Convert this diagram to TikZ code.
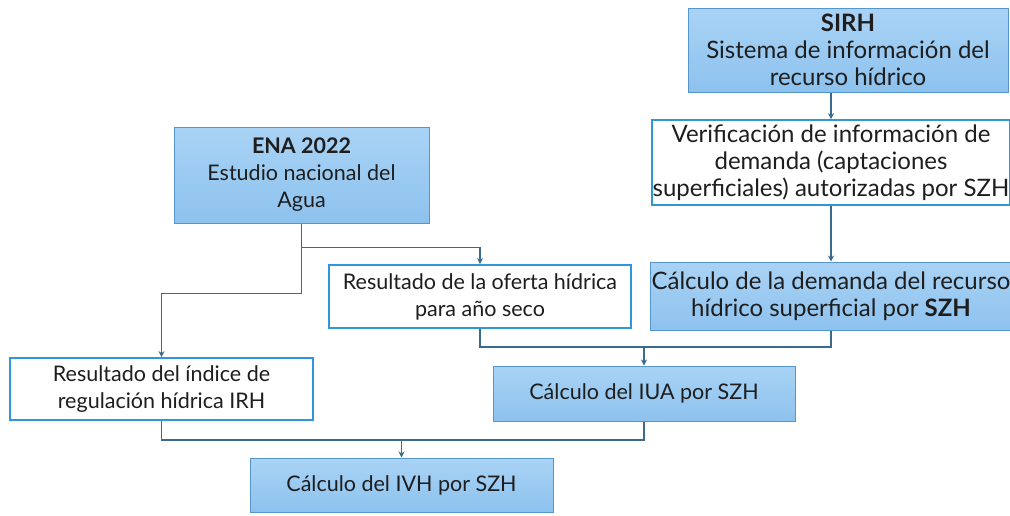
\documentclass[tikz,border=0pt]{standalone}
\usepackage{fontspec}
\setmainfont{Lato}
\usetikzlibrary{arrows.meta,calc}
\definecolor{lineblue}{HTML}{3B6B8C}
\definecolor{wborder}{HTML}{2F97D8}
\definecolor{bborder}{HTML}{5596CC}
\definecolor{btop}{HTML}{A9D3F5}
\definecolor{bbot}{HTML}{8DC2EE}
\definecolor{txt}{HTML}{1E1E1E}
\tikzset{
  box/.style={rectangle, align=center, inner sep=1pt, text=txt,
    font=\fontsize{21.5}{27}\selectfont},
  big/.style={font=\fontsize{24}{27}\selectfont},
  bluebox/.style={box, draw=bborder, line width=1pt, top color=btop, bottom color=bbot},
  whitebox/.style={box, draw=wborder, line width=1.8pt, fill=white},
  conn/.style={draw=lineblue, line width=1.4pt},
  arr/.style={conn, -{Stealth[length=6pt,width=6pt]}}
}
\begin{document}
\begin{tikzpicture}[x=1pt,y=-1pt]
\useasboundingbox (0,0) rectangle (1010,515);
\fill[white] (0,0) rectangle (1010,515);

\node[bluebox, big, minimum width=320pt, minimum height=84pt] (sirh) at (848,50)
  {\textbf{SIRH}\\Sistema de información del\\recurso hídrico};
\node[whitebox, big, minimum width=356pt, minimum height=85pt] (verif) at (831,162.5)
  {Verificación de información de\\demanda (captaciones\\superficiales) autorizadas por SZH};
\node[bluebox, big, minimum width=356pt, minimum height=68pt] (dem) at (831,296)
  {Cálculo de la demanda del recurso\\hídrico superficial por \textbf{SZH}};
\node[bluebox, minimum width=255pt, minimum height=96pt] (ena) at (301.5,175)
  {\textbf{ENA 2022}\\Estudio nacional del\\Agua};
\node[whitebox, minimum width=302pt, minimum height=63pt] (oferta) at (480,296.5)
  {Resultado de la oferta hídrica\\para año seco};
\node[whitebox, minimum width=303pt, minimum height=62pt] (irh) at (161.5,389)
  {Resultado del índice de\\regulación hídrica IRH};
\node[bluebox, minimum width=302pt, minimum height=55pt] (iua) at (644,393.5)
  {Cálculo del IUA por SZH};
\node[bluebox, minimum width=303pt, minimum height=54pt] (ivh) at (401.5,485)
  {Cálculo del IVH por SZH};

% SIRH -> verif -> dem
\draw[arr] (verif.north |- sirh.south) -- (verif.north);
\draw[arr] (verif.south) -- (dem.north);

% ENA branches
\coordinate (e1) at ($(ena.south)+(0,24)$);
\coordinate (e2) at ($(ena.south)+(0,70)$);
\draw[conn] (ena.south) -- (e2);
\draw[arr] (e1) -| (oferta.north);
\draw[arr] (e2) -| (irh.north);

% oferta + dem -> IUA
\coordinate (o1) at ($(oferta.south)+(0,18)$);
\coordinate (j1) at (iua.north |- o1);
\draw[conn] (oferta.south) -- (o1) -| (dem.south);
\draw[arr] (j1) -- (iua.north);

% IRH + IUA -> IVH
\coordinate (r1) at ($(irh.south)+(0,19)$);
\coordinate (j2) at (ivh.north |- r1);
\draw[conn] (irh.south) -- (r1) -| (iua.south);
\draw[arr] (j2) -- (ivh.north);
\end{tikzpicture}
\end{document}
